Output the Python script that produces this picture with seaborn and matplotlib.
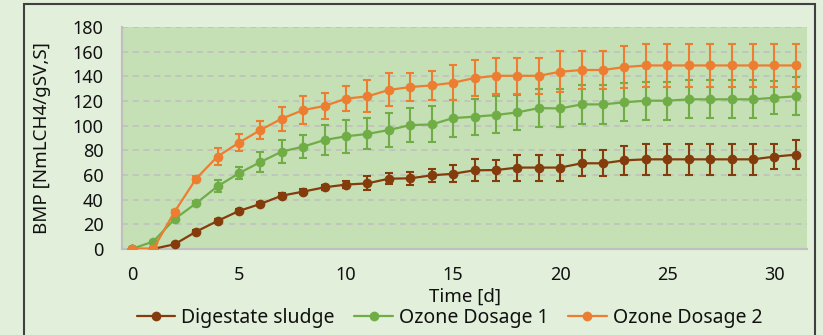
import numpy as np
import pandas as pd
import matplotlib
matplotlib.use("Agg")
import matplotlib.pyplot as plt
import seaborn as sns
from matplotlib.patches import Rectangle

# Données
days = list(range(32))

digestate = [0, 0, 3.8, 14, 22.7, 30.8, 36.5, 43.2, 46.5, 50, 52.2,
             53.2, 57, 57.3, 59.7, 61, 63.8, 64, 66, 66, 66,
             69.5, 69.5, 71.9, 72.7, 72.7, 72.7, 72.7, 72.7, 72.7, 74.9, 76.5]
digestate_err = [0, 0, 1, 1.5, 1.5, 1.5, 1.5, 2, 2, 2, 3,
                 5.7, 4.3, 5.5, 5, 6.9, 9, 8.5, 10.5, 10.5, 10.5,
                 10.4, 10.4, 12, 12.8, 12.8, 12.8, 12.8, 12.8, 12.8, 10, 11.8]

ozone1 = [0, 6, 24.3, 37, 50.8, 61.4, 70.5, 79, 83, 88.4, 91.4,
          93.3, 96.5, 100.5, 101, 106.2, 107.3, 108.7, 110.8, 114.3, 114,
          117.3, 117.3, 119, 120.3, 120.3, 121.4, 121.4, 121.4, 121.4, 122.7, 123.8]
ozone1_err = [0, 0.5, 1, 2, 5, 5, 8, 9, 9.5, 12, 13.5,
              12.6, 13.8, 14, 14.6, 15, 14.5, 15, 14.5, 15.4, 15.4,
              15.7, 15.7, 15.3, 15.5, 15.5, 15.5, 15.5, 15.5, 15.5, 13.2, 15.4]

ozone2 = [0, 0, 30.3, 57, 75, 86.2, 96.5, 105.7, 112.7, 116, 122,
          123.8, 129, 131.4, 132.7, 134.9, 138.7, 140.5, 140.5, 140.5, 143.8,
          145.2, 145.2, 147.6, 148.9, 148.9, 148.9, 148.9, 148.9, 148.9, 148.9, 148.9]
ozone2_err = [0, 0, 1.5, 2.5, 6.8, 7, 7.4, 9.7, 11.2, 10.3, 9.9,
              13, 13.4, 11.6, 11.5, 14.3, 14.6, 14.6, 14.6, 14.6, 16.8,
              15.5, 15.5, 17.3, 17.3, 17.3, 17.3, 17.3, 17.3, 17.3, 17.3, 17.3]

series = [
    ("Digestate sludge", digestate, digestate_err, "#843c0c"),
    ("Ozone Dosage 1", ozone1, ozone1_err, "#70ad47"),
    ("Ozone Dosage 2", ozone2, ozone2_err, "#ed7d31"),
]

sns.set_style("white")
plt.rcParams["font.family"] = ["Noto Sans", "DejaVu Sans"]
text_color = "#111111"

fig = plt.figure(figsize=(8.23, 3.35), dpi=100)
fig.patch.set_facecolor("#e2efda")
ax = fig.add_axes([0.148, 0.257, 0.833, 0.662])
ax.set_facecolor("#c5e0b4")

for label, vals, err, color in series:
    df = pd.DataFrame({"Time": days, "BMP": vals})
    ax.errorbar(days, vals, yerr=err, fmt="none", ecolor=color,
                elinewidth=1.5, capsize=3.2, capthick=1.5, zorder=2)
    sns.lineplot(data=df, x="Time", y="BMP", ax=ax, color=color, label=label,
                 marker="o", markersize=7, markeredgewidth=0, linewidth=1.6,
                 zorder=3)

ax.set_xlim(-0.47, 31.54)
ax.set_ylim(0, 180)
ax.set_xticks(range(0, 31, 5))
ax.set_yticks(range(0, 181, 20))
ax.tick_params(axis="both", length=0, labelsize=13, colors=text_color)
ax.tick_params(axis="x", pad=12)
ax.tick_params(axis="y", pad=13)
ax.yaxis.grid(True, color="#bfbfbf", linestyle=(0, (4, 3)), linewidth=1.1)
ax.xaxis.grid(False)
for side in ["top", "right"]:
    ax.spines[side].set_visible(False)
for side in ["left", "bottom"]:
    ax.spines[side].set_color("#bfbfbf")
    ax.spines[side].set_linewidth(1.5)

ax.set_xlabel("Time [d]", fontsize=13.5, color=text_color, labelpad=3)
ax.set_ylabel("BMP [NmLCH4/gSV,S]", fontsize=13.5, color=text_color, labelpad=16)

ax.legend_.remove()
handles, labels = ax.get_legend_handles_labels()
fig.legend(handles, labels, loc="center", bbox_to_anchor=(0.546, 0.051),
           ncol=3, frameon=False, fontsize=14, handlelength=2.0,
           handletextpad=0.3, columnspacing=1.0, labelcolor=text_color)

# cadre extérieur
fig.patches.append(Rectangle((23.5 / 823, -0.1), (815 - 23.5) / 823, 1.1 - 3.5 / 335,
                             transform=fig.transFigure, fill=False,
                             edgecolor="#404040", linewidth=1.5, clip_on=False))

fig.savefig("out.png", dpi=100, facecolor=fig.get_facecolor())
